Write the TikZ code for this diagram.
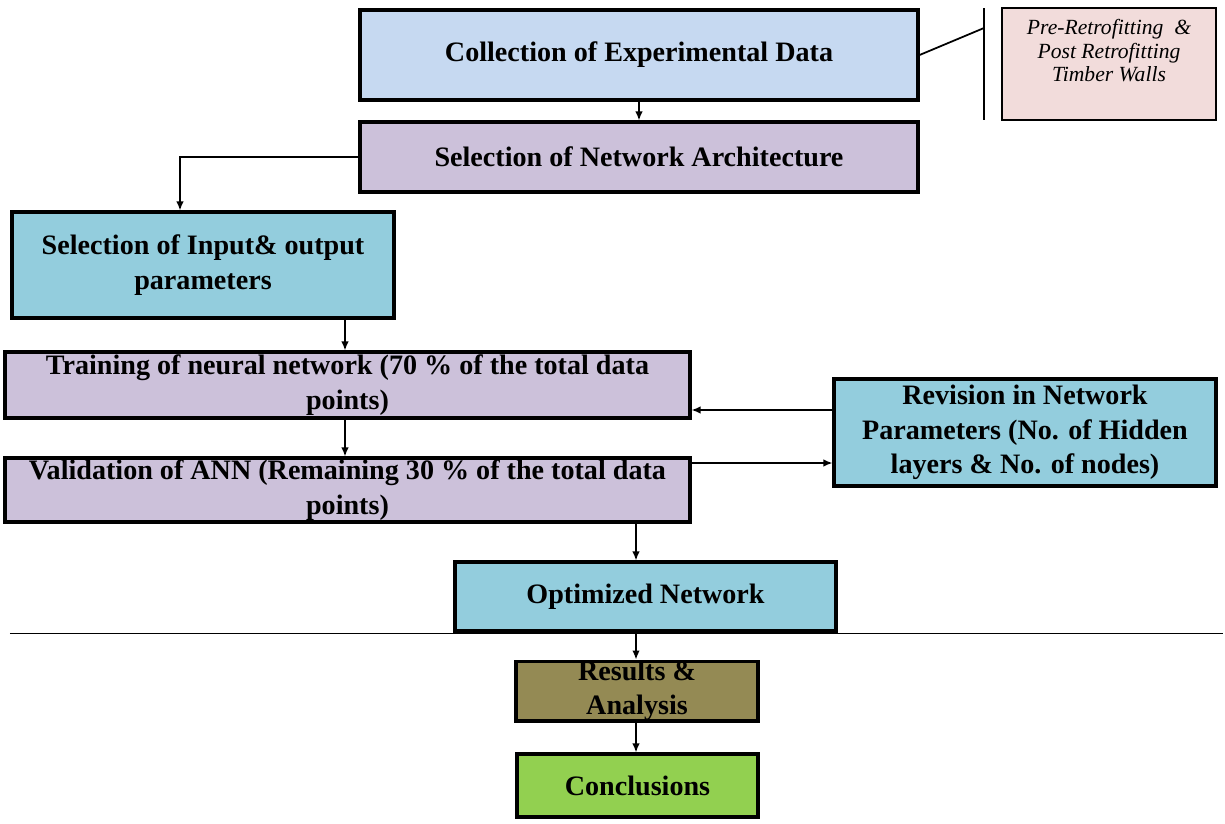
\documentclass[tikz,border=0pt]{standalone}
\usepackage{fontspec}
\setmainfont{Liberation Serif}
\usetikzlibrary{arrows.meta}

\definecolor{paleblue}{HTML}{C6D9F1}
\definecolor{lilac}{HTML}{CCC1DA}
\definecolor{aqua}{HTML}{93CDDD}
\definecolor{olive}{HTML}{948A54}
\definecolor{leaf}{HTML}{92D050}
\definecolor{blush}{HTML}{F2DCDB}

\begin{document}
\begin{tikzpicture}[
  stage/.style={draw=black, line width=1.8pt, align=center, inner sep=1pt,
    font=\fontsize{16}{19.5}\selectfont\bfseries},
  arr/.style={-{Latex[length=1.8mm,width=1.5mm]}, line width=0.8pt}
]
\useasboundingbox (0,0) rectangle (24.5,-16.48);

% main flow
\node[stage, fill=paleblue, minimum width=11.16cm, minimum height=1.8cm] (coll) at (12.78,-1.1) {Collection of Experimental Data};
\node[stage, fill=lilac, minimum width=11.16cm, minimum height=1.4cm] (arch) at (12.78,-3.14) {Selection of Network Architecture};
\node[stage, fill=aqua, minimum width=7.64cm, minimum height=2.12cm] (input) at (4.06,-5.3) {Selection of Input\& output\\parameters};
\node[stage, fill=lilac, minimum width=13.7cm, minimum height=1.32cm] (train) at (6.95,-7.7) {Training of neural network (70 \% of the total data\\points)};
\node[stage, fill=lilac, minimum width=13.7cm, minimum height=1.28cm] (val) at (6.95,-9.8) {Validation of ANN (Remaining 30 \% of the total data\\points)};
\node[stage, fill=aqua, minimum width=7.64cm, minimum height=2.14cm] (rev) at (20.5,-8.65) {Revision in Network\\Parameters (No. of Hidden\\layers \& No. of nodes)};
\node[stage, fill=aqua, minimum width=7.62cm, minimum height=1.38cm] (opt) at (12.91,-11.93) {Optimized Network};
\node[stage, fill=olive, minimum width=4.84cm, minimum height=1.16cm, inner sep=0pt] (res) at (12.74,-13.82) {Results \&\\Analysis};
\node[stage, fill=leaf, minimum width=4.82cm, minimum height=1.26cm] (concl) at (12.75,-15.71) {Conclusions};

% data source note, text sits high in its box
\coordinate (wallsNW) at (20.04,-0.16);
\coordinate (wallsSE) at (24.32,-2.4);
\draw[line width=1pt, fill=blush] (wallsNW) rectangle (wallsSE);
\node[align=center, font=\fontsize{12.3}{13.4}\selectfont\itshape] (walls) at (22.18,-1.02) {Pre-Retrofitting~~\&\\Post Retrofitting\\Timber Walls};
\coordinate (brkT) at (19.68,-0.16);
\coordinate (brkB) at (19.68,-2.4);
\coordinate (brkM) at (19.68,-0.56);
\draw[line width=1pt] (brkT) -- (brkB);
\draw[line width=1pt] (coll.east) -- (brkM);

% columns and rows for the connectors
\coordinate (colA) at (6.9,0);
\coordinate (colB) at (12.72,0);
\coordinate (colC) at (3.6,0);
\coordinate (rowA) at (0,-8.2);
\coordinate (rowB) at (0,-9.26);

\draw[arr] (coll.south) -- (arch.north);
\draw[arr] (arch.west) -| (colC |- input.north);
\draw[arr] (colA |- input.south) -- (colA |- train.north);
\draw[arr] (colA |- train.south) -- (colA |- val.north);
\draw[arr] (rev.west |- rowA) -- (train.east |- rowA);
\draw[arr] (val.east |- rowB) -- (rev.west |- rowB);
\draw[arr] (colB |- val.south) -- (colB |- opt.north);
\draw[arr] (colB |- opt.south) -- (colB |- res.north);
\draw[arr] (colB |- res.south) -- (colB |- concl.north);

% divider
\coordinate (divL) at (0.2,-12.67);
\coordinate (divR) at (24.45,-12.67);
\draw[line width=0.8pt] (divL) -- (divR);
\end{tikzpicture}
\end{document}
